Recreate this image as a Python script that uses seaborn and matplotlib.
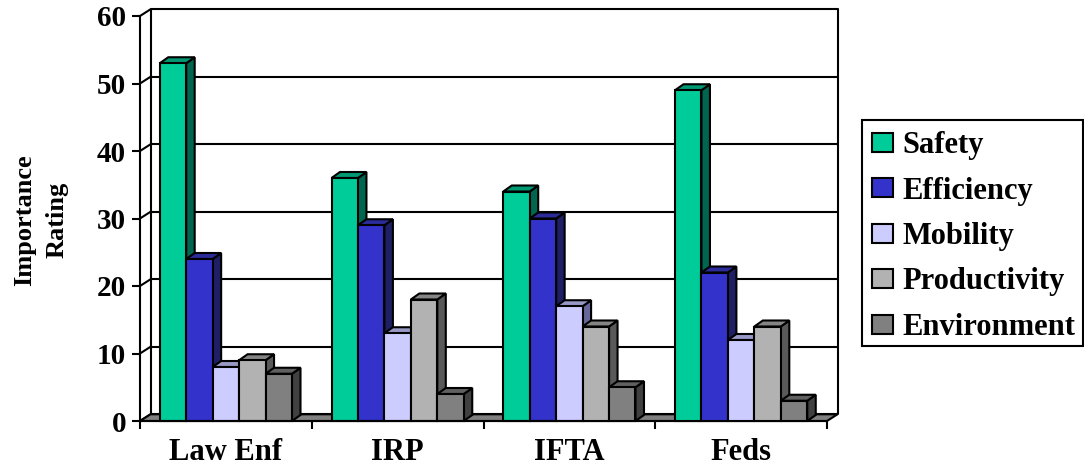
import numpy as np
import pandas as pd
import matplotlib
matplotlib.use("Agg")
import matplotlib.pyplot as plt
from matplotlib.patches import Polygon, Rectangle, Patch
import seaborn as sns

# Importance ratings by agency group
categories = ["Law Enf", "IRP", "IFTA", "Feds"]
series = ["Safety", "Efficiency", "Mobility", "Productivity", "Environment"]
safety = [53, 36, 34, 49]
efficiency = [24, 29, 30, 22]
mobility = [8, 13, 17, 12]
productivity = [9, 18, 14, 14]
environment = [7, 4, 5, 3]
y_ticks = [0, 10, 20, 30, 40, 50, 60]

front_colors = ["#00CC99", "#3333CC", "#CCCCFF", "#B2B2B2", "#808080"]
top_colors = ["#009973", "#2B2B99", "#9999C8", "#858585", "#606060"]
side_colors = ["#006650", "#1F1F66", "#666699", "#595959", "#404040"]

df = pd.DataFrame({
    "Category": categories,
    "Safety": safety,
    "Efficiency": efficiency,
    "Mobility": mobility,
    "Productivity": productivity,
    "Environment": environment,
})
long_df = df.melt(id_vars="Category", var_name="Series", value_name="Rating")

sns.set_theme(style="white")
plt.rcParams["font.family"] = ["Liberation Serif", "DejaVu Serif"]
plt.rcParams["font.weight"] = "bold"
plt.rcParams["text.color"] = "black"
plt.rcParams["xtick.color"] = "black"
plt.rcParams["ytick.color"] = "black"
plt.rcParams["xtick.labelcolor"] = "black"
plt.rcParams["ytick.labelcolor"] = "black"

W, H = 1084, 467
fig = plt.figure(figsize=(W / 100, H / 100), dpi=100)
fig.patch.set_facecolor("white")
ax = fig.add_axes([140 / W, 46 / H, 687 / W, 405 / H])

sns.barplot(
    data=long_df, x="Category", y="Rating", hue="Series",
    order=categories, hue_order=series, palette=front_colors,
    saturation=1, width=0.77, edgecolor="black", linewidth=1.5,
    errorbar=None, legend=False, ax=ax,
)

ax.set_xlim(-0.5, 3.5)
ax.set_ylim(0, 60)
ax.set_xlabel("")
ax.set_ylabel("")
ax.set_facecolor("white")


def px_to_data(dxp, dyp):
    inv = ax.transData.inverted()
    x0, y0 = inv.transform((0, 0))
    x1, y1 = inv.transform((dxp, dyp))
    return x1 - x0, y1 - y0


wdx, wdy = px_to_data(10.5, 6.7)   # depth of back wall
bdx, bdy = px_to_data(8.5, 6.0)    # depth of each column

# Back wall gridlines and left-wall connectors
for t in y_ticks:
    ax.plot([-0.5 + wdx, 3.5 + wdx], [t + wdy, t + wdy], color="black",
            lw=1.5, zorder=1, clip_on=False, solid_capstyle="butt")
    ax.plot([-0.5, -0.5 + wdx], [t, t + wdy], color="black", lw=1.5,
            zorder=1, clip_on=False)
for xe in (-0.5 + wdx, 3.5 + wdx):
    ax.plot([xe, xe], [wdy, 60 + wdy], color="black", lw=1.5, zorder=1,
            clip_on=False)

# Floor
floor = Polygon([(-0.5, 0), (3.5, 0), (3.5 + wdx, wdy), (-0.5 + wdx, wdy)],
                closed=True, facecolor="#808080", edgecolor="black", lw=1.5,
                zorder=3, clip_on=False)
ax.add_patch(floor)

# Extrude the columns: side and top faces, drawn left to right
bars = sorted([p for p in ax.patches if isinstance(p, Rectangle) and p is not floor],
              key=lambda p: p.get_x())
bars = [p for p in bars if p.get_height() > 0]
for i, p in enumerate(bars):
    k = i % len(series)
    x0, w, h = p.get_x(), p.get_width(), p.get_height()
    z = 10 + 3 * i
    side = Polygon([(x0 + w, 0), (x0 + w, h), (x0 + w + bdx, h + bdy),
                    (x0 + w + bdx, bdy)], closed=True,
                   facecolor=side_colors[k], edgecolor="black", lw=1.5,
                   zorder=z, clip_on=False)
    top = Polygon([(x0, h), (x0 + w, h), (x0 + w + bdx, h + bdy),
                   (x0 + bdx, h + bdy)], closed=True,
                  facecolor=top_colors[k], edgecolor="black", lw=1.5,
                  zorder=z + 1, clip_on=False)
    ax.add_patch(side)
    ax.add_patch(top)
    p.set_zorder(z + 2)
    p.set_clip_on(False)

# Axes, ticks and labels
for s in ("top", "right"):
    ax.spines[s].set_visible(False)
for s in ("left", "bottom"):
    ax.spines[s].set_color("black")
    ax.spines[s].set_linewidth(1.5)
    ax.spines[s].set_zorder(50)

ax.set_yticks(y_ticks)
ax.set_yticklabels([str(t) for t in y_ticks], fontsize=21, fontweight="bold")
ax.tick_params(axis="y", length=6, width=1.5, direction="out", pad=4,
               colors="black", left=True)
ax.set_xticks(range(len(categories)))
ax.set_xticklabels(categories, fontsize=22, fontweight="bold")
ax.set_xticks(np.arange(-0.5, len(categories), 1.0), minor=True)
ax.tick_params(axis="x", which="major", length=0, pad=12, colors="black")
ax.tick_params(axis="x", which="minor", length=6, width=1.5, direction="out",
               colors="black", bottom=True)

fig.text(41 / W, 1 - 220 / H, "Importance\nRating", rotation=90,
         ha="center", va="center", fontsize=19, fontweight="bold",
         linespacing=1.5, multialignment="center", color="black")

# Legend
handles = [Patch(facecolor=c, edgecolor="black", lw=1.5) for c in front_colors]
fig.add_artist(Rectangle((862 / W, 1 - 346 / H), (1083 - 862) / W, 226 / H,
                         transform=fig.transFigure, fill=False,
                         edgecolor="black", lw=1.5))
fig.legend(handles, series, loc="upper left",
           bbox_to_anchor=(872 / W, 1 - 131 / H), frameon=False,
           borderaxespad=0, borderpad=0,
           prop={"weight": "bold", "size": 22},
           handlelength=0.7, handleheight=0.6, handletextpad=0.3,
           labelspacing=0.54)

fig.savefig("out.png", dpi=100, facecolor="white")
